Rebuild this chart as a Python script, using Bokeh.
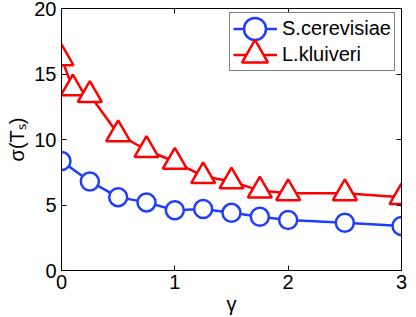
from bokeh.plotting import figure
from bokeh.models import Range1d, FixedTicker, LinearAxis, Legend, LegendItem
from bokeh.embed import file_html
from bokeh.resources import INLINE

# ---- data ----
gamma_sc = [0, 0.25, 0.5, 0.75, 1, 1.25, 1.5, 1.75, 2, 2.5, 3]
sigma_sc = [8.35, 6.8, 5.6, 5.2, 4.6, 4.7, 4.4, 4.1, 3.85, 3.65, 3.4]
gamma_lk = [0, 0.1, 0.25, 0.5, 0.75, 1, 1.25, 1.5, 1.75, 2, 2.5, 3]
sigma_lk = [16.2, 13.9, 13.4, 10.4, 9.2, 8.3, 7.2, 6.8, 6.1, 5.9, 5.9, 5.6]
series_names = ["S.cerevisiae", "L.kluiveri"]
x_ticks = [0, 1, 2, 3]
y_ticks = [0, 5, 10, 15, 20]
x_title = "γ"
y_title = "σ(Tₛ)"

FONT = "Liberation Sans"
FS = "20px"
BLUE = "#1f3dff"
RED = "#ff0000"

p = figure(width=416, height=317, x_range=Range1d(0, 3), y_range=Range1d(0, 20),
           output_backend="svg", toolbar_location=None,
           min_border_left=61, min_border_right=15, min_border_top=8, min_border_bottom=47,
           background_fill_color="white", border_fill_color="white")
p.xgrid.visible = False
p.ygrid.visible = False
p.outline_line_color = None

bottom_ax = p.xaxis[0]
left_ax = p.yaxis[0]
bottom_ax.ticker = FixedTicker(ticks=x_ticks)
left_ax.ticker = FixedTicker(ticks=y_ticks)
top_ax = LinearAxis(ticker=FixedTicker(ticks=x_ticks),
                    major_label_overrides={t: "" for t in x_ticks})
right_ax = LinearAxis(ticker=FixedTicker(ticks=y_ticks),
                      major_label_overrides={t: "" for t in y_ticks})
p.add_layout(top_ax, "above")
p.add_layout(right_ax, "right")

for ax in [bottom_ax, left_ax, top_ax, right_ax]:
    ax.axis_line_color = "black"
    ax.axis_line_width = 1
    ax.major_tick_line_color = "black"
    ax.major_tick_in = 5
    ax.major_tick_out = 0
    ax.minor_tick_line_color = None
    ax.major_label_text_font = FONT
    ax.major_label_text_font_size = FS
    ax.major_label_text_color = "black"
    ax.axis_label_text_font = FONT
    ax.axis_label_text_font_size = FS
    ax.axis_label_text_font_style = "normal"
    ax.axis_label_text_color = "black"
for ax in [top_ax, right_ax]:
    ax.major_label_text_font_size = "1px"
    ax.major_label_standoff = 0
bottom_ax.major_label_standoff = 4
bottom_ax.axis_label = x_title
bottom_ax.axis_label_standoff = 1
left_ax.major_label_standoff = 5
left_ax.axis_label = y_title
left_ax.axis_label_standoff = 3

l_sc = p.line(gamma_sc, sigma_sc, line_color=BLUE, line_width=2.5)
l_lk = p.line(gamma_lk, sigma_lk, line_color=RED, line_width=2.5)
m_sc = p.scatter(gamma_sc, sigma_sc, marker="circle", size=18, fill_color="white",
                 line_color=BLUE, line_width=2.5)
m_lk = p.scatter(gamma_lk, sigma_lk, marker="triangle", size=24, fill_color="white",
                 line_color=RED, line_width=2.5)

# legend: box + lines + labels
leg_a = Legend(items=[LegendItem(label=series_names[0], renderers=[l_sc]),
                      LegendItem(label=series_names[1], renderers=[l_lk])],
               location=(168, 199), glyph_width=44, glyph_height=25, label_height=25,
               spacing=1, padding=3, label_standoff=5, margin=0,
               border_line_color="black", border_line_width=1,
               background_fill_color="white", background_fill_alpha=1,
               label_text_font=FONT, label_text_font_size=FS, label_text_color="black")
p.add_layout(leg_a)
# legend markers, each in its own transparent legend with a larger glyph box
for rend, box, loc in [(m_sc, 55, (165.5, 214)), (m_lk, 65, (160.5, 183))]:
    p.add_layout(Legend(items=[LegendItem(label=" ", renderers=[rend])],
                        location=loc, glyph_width=box, glyph_height=box, label_height=10,
                        spacing=0, padding=0, margin=0, label_standoff=0,
                        border_line_alpha=0, background_fill_alpha=0,
                        label_text_alpha=0, label_text_font=FONT, label_text_font_size="10px"))

open("out.html", "w").write(file_html(p, INLINE))
